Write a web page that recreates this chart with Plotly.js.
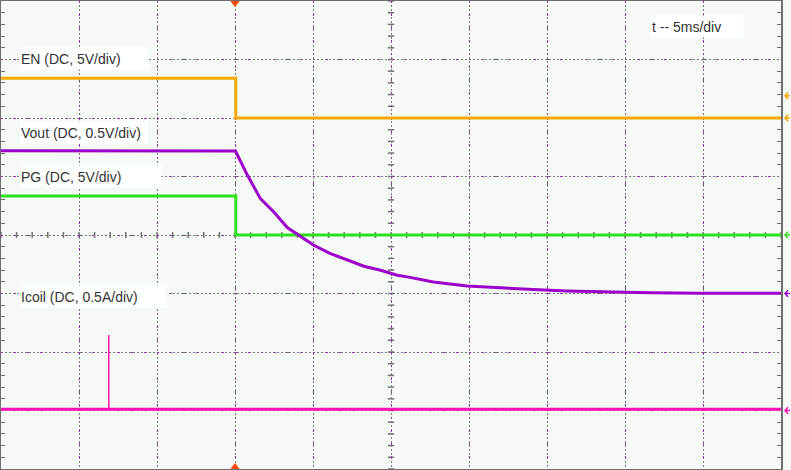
<!DOCTYPE html>
<html>
<head>
<meta charset="utf-8">
<script src="https://cdn.plot.ly/plotly-3.0.1.min.js"></script>
<style>html,body{margin:0;padding:0;background:#f5faf6;}</style>
</head>
<body>
<div id="chart" style="width:791px;height:470px;"></div>
<script>
// time in ms relative to trigger, amplitude in screen divisions
const enT = [-15, 0.05, 0.05, 35];
const enV = [2.68, 2.68, 2.0, 2.0];

const voutT = [-15, 0.03, 0.80, 1.63, 2.49, 3.35, 4.09, 5.05, 6.12, 7.19, 8.26, 9.33, 10.40, 11.04, 12.72, 14.88, 17.02, 19.13, 21.29, 23.43, 26.6, 29.84, 35];
const voutV = [1.44, 1.435, 1.02, 0.622, 0.393, 0.127, -0.004, -0.175, -0.317, -0.431, -0.534, -0.602, -0.688, -0.716, -0.802, -0.870, -0.904, -0.932, -0.956, -0.973, -0.986, -0.995, -0.995];

const pgT = [-15, 0.05, 0.05, 35];
const pgV = [0.667, 0.667, 0.0, 0.0];

const icoilT = [-15, 35];
const icoilV = [-2.98, -2.98];
const spikeT = [-8.09, -8.09];
const spikeV = [-2.98, -1.71];

const trigT = [0, 0];
const trigV = [4, -4];

const refV = [2.38, 2.0, 0.0, -1.0, -3.0];
const refC = ['#f5a300', '#f5a300', '#30d820', '#9a00c8', '#ff10b0'];

const labels = ['EN (DC, 5V/div)', 'Vout (DC, 0.5V/div)', 'PG (DC, 5V/div)', 'Icoil (DC, 0.5A/div)', 't -- 5ms/div'];

const traces = [
  {x: enT, y: enV, mode: 'lines', line: {color: '#f5a800', width: 3}, hoverinfo: 'skip'},
  {x: pgT, y: pgV, mode: 'lines', line: {color: '#2fe01c', width: 3}, hoverinfo: 'skip'},
  {x: voutT, y: voutV, mode: 'lines', line: {color: '#9e00cc', width: 3}, hoverinfo: 'skip'},
  {x: icoilT, y: icoilV, mode: 'lines', line: {color: '#ff10b4', width: 3}, hoverinfo: 'skip'},
  {x: spikeT, y: spikeV, mode: 'lines', line: {color: '#ff10b4', width: 1.5}, hoverinfo: 'skip'},
  {x: trigT, y: trigV, mode: 'markers', cliponaxis: false,
   marker: {symbol: ['triangle-down', 'triangle-up'], color: '#ff4a00', size: 12}, hoverinfo: 'skip'}
];

// center graticule tick marks
const shapes = [];
for (let i = 0; i <= 50; i++) {
  const t = -15 + i;
  shapes.push({type: 'line', xref: 'x', yref: 'y', x0: t, x1: t, y0: -0.05, y1: 0.05,
    line: {color: '#707070', width: 1.5}, layer: 'below'});
}
for (let i = 0; i <= 40; i++) {
  const v = -4 + i * 0.2;
  shapes.push({type: 'line', xref: 'x', yref: 'y', x0: 9.8, x1: 10.2, y0: v, y1: v,
    line: {color: '#707070', width: 1.5}, layer: 'below'});
}
// channel reference arrows on the right edge
refV.forEach((v, i) => {
  shapes.push({type: 'path', xref: 'paper', yref: 'y', xsizemode: 'pixel', xanchor: 1,
    path: 'M 4,' + v + ' L 9,' + v + ' M 7,' + (v + 0.055) + ' L 4,' + v + ' L 7,' + (v - 0.055),
    line: {color: refC[i], width: 1.5}, layer: 'above'});
});

const boxes = [
  {px: 20, py: 58.5, w: 127},
  {px: 20, py: 132.5, w: 126},
  {px: 20, py: 176.5, w: 140},
  {px: 20, py: 296, w: 145},
  {px: 651, py: 26, w: 91}
];
const annotations = labels.map((txt, i) => ({
  text: txt, xref: 'paper', yref: 'paper',
  x: (boxes[i].px - 1) / 780, y: 1 - (boxes[i].py - 1) / 468,
  xanchor: 'left', yanchor: 'middle', align: 'left',
  width: boxes[i].w, height: 21, borderpad: 0,
  bgcolor: '#ffffff', showarrow: false,
  font: {family: 'Liberation Sans, Arial, sans-serif', size: 14, color: '#333333'}
}));

const axisCommon = {
  showline: true, mirror: 'allticks', linecolor: '#6e6e6e', linewidth: 2,
  showgrid: true, gridcolor: '#7a7a7a', gridwidth: 1, griddash: '2px,2px',
  zeroline: false, showticklabels: false, ticks: '', fixedrange: true
};

const layout = {
  width: 791, height: 470,
  margin: {l: 1, r: 10, t: 1, b: 1},
  paper_bgcolor: '#f5faf6', plot_bgcolor: '#f5faf6',
  showlegend: false,
  xaxis: Object.assign({}, axisCommon, {range: [-15, 35], dtick: 5, tick0: 0}),
  yaxis: Object.assign({}, axisCommon, {range: [-4, 4], dtick: 1, tick0: 0,
    minor: {ticks: 'inside', dtick: 0.2, ticklen: 4, tickcolor: '#6e6e6e', showgrid: false}}),
  xaxis2: {overlaying: 'x', range: [-15, 35], dtick: 5, tick0: 0, showgrid: true,
    gridcolor: '#a020c0', gridwidth: 1, griddash: '2px,11px', zeroline: false,
    showticklabels: false, showline: false, fixedrange: true},
  yaxis2: {overlaying: 'y', range: [-4, 4], dtick: 1, tick0: 0, showgrid: true,
    gridcolor: '#a020c0', gridwidth: 1, griddash: '2px,11px', zeroline: false,
    showticklabels: false, showline: false, fixedrange: true},
  shapes: shapes,
  annotations: annotations
};

const gridDummy = {x: [-15], y: [-4], xaxis: 'x2', yaxis: 'y2', mode: 'markers',
  marker: {opacity: 0}, hoverinfo: 'skip'};

Plotly.newPlot('chart', [gridDummy].concat(traces), layout, {displayModeBar: false, staticPlot: true});
</script>
</body>
</html>
